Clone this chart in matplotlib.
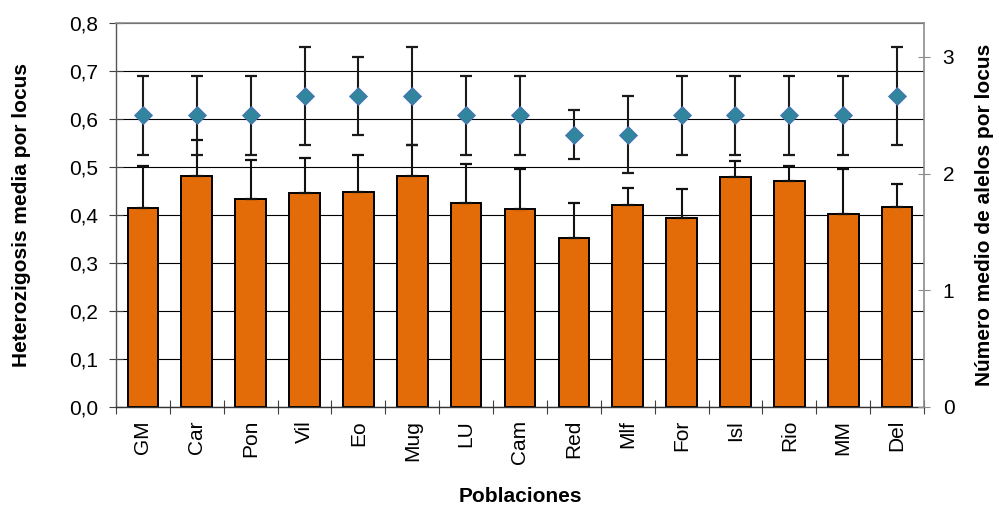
import matplotlib
matplotlib.use("Agg")
import matplotlib.pyplot as plt
import numpy as np

plt.rcParams['font.family'] = ['Liberation Sans', 'DejaVu Sans']

poblaciones = ["GM", "Car", "Pon", "Vil", "Eo", "Mug", "LU", "Cam",
               "Red", "Mlf", "For", "Isl", "Rio", "MM", "Del"]

# Heterocigosis media por locus (barras) y su error
heterocigosis = [0.415, 0.482, 0.433, 0.446, 0.448, 0.482, 0.426, 0.413,
                 0.353, 0.420, 0.394, 0.480, 0.471, 0.403, 0.417]
heterocigosis_err = [0.087, 0.074, 0.082, 0.073, 0.077, 0.064, 0.080, 0.082,
                     0.071, 0.036, 0.060, 0.033, 0.032, 0.092, 0.048]

# Número medio de alelos por locus (rombos) y su error
alelos = [2.5, 2.5, 2.5, 2.667, 2.667, 2.667, 2.5, 2.5,
          2.333, 2.333, 2.5, 2.5, 2.5, 2.5, 2.667]
alelos_err = [0.34, 0.34, 0.34, 0.42, 0.335, 0.42, 0.34, 0.34,
              0.21, 0.33, 0.34, 0.34, 0.34, 0.34, 0.42]

left_ticks = [0.0, 0.1, 0.2, 0.3, 0.4, 0.5, 0.6, 0.7, 0.8]
right_ticks = [0, 1, 2, 3]

bar_color = "#E36C09"
diamond_color = "#31859C"
frame_color = "#8C8C8C"

fig = plt.figure(figsize=(9.99, 5.08), dpi=100)
ax = fig.add_axes([116 / 999, 1 - 407 / 508, 808 / 999, 384 / 508])
x = np.arange(len(poblaciones))

ax.set_axisbelow(True)
ax.grid(axis="y", color="black", linewidth=0.8, zorder=0)
ax.bar(x, heterocigosis, width=0.57, color=bar_color, edgecolor="black",
       linewidth=1.4, zorder=2)
ax.errorbar(x, heterocigosis,
            yerr=[np.zeros(len(heterocigosis)), heterocigosis_err],
            fmt="none", ecolor="#111111", elinewidth=1.5, capsize=4,
            capthick=1.6, zorder=3)

ax.set_xlim(-0.5, len(poblaciones) - 0.5)
ax.set_ylim(0, 0.8)
ax.set_yticks(left_ticks)
ax.set_yticklabels([f"{v:.1f}".replace(".", ",") for v in left_ticks],
                   fontsize=15)
ax.tick_params(axis="y", direction="inout", length=10, width=0.8,
               color="#404040", pad=8)
ax.set_xticks(x)
ax.set_xticklabels(poblaciones, rotation=90, fontsize=15, va="top",
                   ha="center")
ax.tick_params(axis="x", which="major", length=0, pad=9.4)
ax.set_xticks(np.arange(-0.5, len(poblaciones) + 0.5, 1.0), minor=True)
ax.tick_params(axis="x", which="minor", direction="inout", length=9.5,
               width=0.8, color="#404040")

for side in ["top", "right"]:
    ax.spines[side].set_color(frame_color)
    ax.spines[side].set_linewidth(1.2)
ax.spines["left"].set_color("#555555")
ax.spines["bottom"].set_color("#333333")
ax.spines["left"].set_linewidth(1.0)
ax.spines["bottom"].set_linewidth(1.0)

ax2 = ax.twinx()
ax2.errorbar(x, alelos, yerr=alelos_err, fmt="none", ecolor="#1a1a1a",
             elinewidth=1.5, capsize=4, capthick=1.6, zorder=3)
ax2.plot(x, alelos, linestyle="none", marker="D", markersize=9,
         markerfacecolor=diamond_color, markeredgecolor="#4F6FBF",
         markeredgewidth=0.6, zorder=4)
ax2.set_ylim(0, 3.29)
ax2.set_yticks(right_ticks)
ax2.set_yticklabels([str(v) for v in right_ticks], fontsize=15)
ax2.tick_params(axis="y", direction="inout", length=9, width=0.8,
                color=frame_color, pad=9)
for side in ["top", "right", "left", "bottom"]:
    ax2.spines[side].set_visible(False)

fig.text(22 / 999, 1 - 215 / 508, "Heterozigosis media por locus",
         rotation=90, ha="center", va="center", fontsize=15,
         fontweight="bold")
fig.text(985 / 999, 1 - 215 / 508, "Número medio de alelos por locus",
         rotation=90, ha="center", va="center", fontsize=15,
         fontweight="bold")
fig.text(520 / 999, 1 - 497 / 508, "Poblaciones", ha="center",
         va="center", fontsize=15, fontweight="bold")

fig.savefig("out.png", dpi=100)
